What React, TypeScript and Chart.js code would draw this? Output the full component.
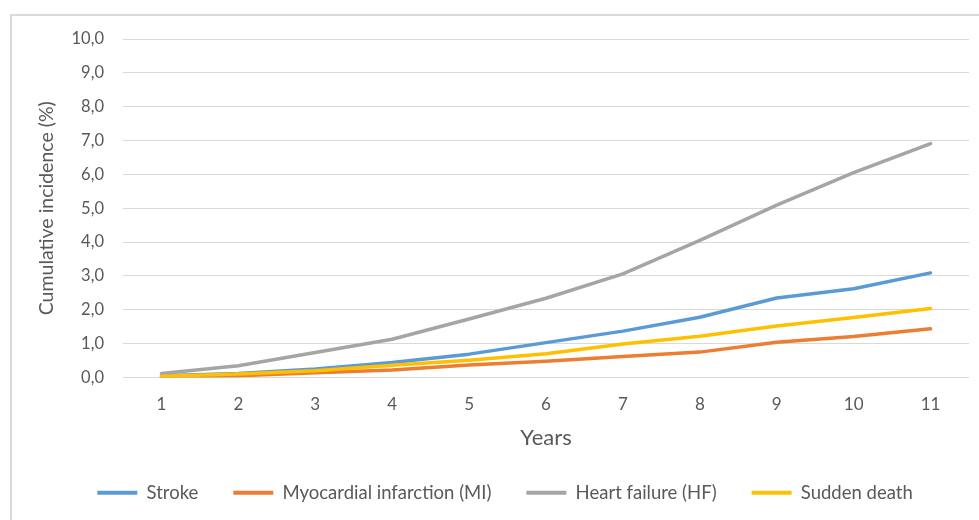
import React, { useEffect, useRef } from "react";
import { Chart, registerables } from "chart.js";

Chart.register(...registerables);

const years = ["1", "2", "3", "4", "5", "6", "7", "8", "9", "10", "11"];
const stroke = [0.05, 0.12, 0.25, 0.44, 0.69, 1.03, 1.37, 1.78, 2.35, 2.62, 3.09];
const myocardialInfarction = [0.02, 0.05, 0.14, 0.22, 0.37, 0.48, 0.62, 0.75, 1.04, 1.21, 1.44];
const heartFailure = [0.12, 0.35, 0.74, 1.13, 1.73, 2.34, 3.06, 4.05, 5.09, 6.05, 6.91];
const suddenDeath = [0.04, 0.1, 0.2, 0.36, 0.51, 0.7, 0.99, 1.22, 1.52, 1.77, 2.04];

const seriesNames = ["Stroke", "Myocardial infarction (MI)", "Heart failure (HF)", "Sudden death"];
const seriesColors = ["#5B9BD5", "#ED7D31", "#A5A5A5", "#FFC000"];
const yTitle = "Cumulative incidence (%)";
const xTitle = "Years";

const FONT = "Lato, 'Noto Sans', sans-serif";
const TEXT = "#595959";

export default function App() {
  const ref = useRef<HTMLCanvasElement | null>(null);

  useEffect(() => {
    if (!ref.current) return;
    const values = [stroke, myocardialInfarction, heartFailure, suddenDeath];
    const chart = new Chart(ref.current, {
      type: "line",
      data: {
        labels: years,
        datasets: values.map((v, i) => ({
          label: seriesNames[i],
          data: v,
          borderColor: seriesColors[i],
          backgroundColor: seriesColors[i],
          borderWidth: 3.5,
          pointRadius: 0,
          tension: 0,
          borderCapStyle: "round" as const,
          borderJoinStyle: "round" as const,
          order: values.length - i,
        })),
      },
      options: {
        responsive: false,
        animation: false,
        layout: { padding: { left: 41, right: 10, top: 39, bottom: 8 } },
        plugins: {
          tooltip: { enabled: false },
          legend: {
            position: "bottom",
            labels: {
              boxWidth: 40,
              boxHeight: 4,
              padding: 35,
              color: TEXT,
              font: { family: FONT, size: 18.5 },
              sort: (a: any, b: any) => a.datasetIndex - b.datasetIndex,
              generateLabels: (c: any) =>
                c.data.datasets.map((d: any, i: number) => ({
                  text: d.label,
                  fillStyle: d.borderColor,
                  strokeStyle: d.borderColor,
                  lineWidth: 0,
                  datasetIndex: i,
                  hidden: false,
                  fontColor: TEXT,
                })),
            },
          },
        },
        scales: {
          x: {
            offset: true,
            grid: { display: false, drawTicks: false },
            border: { display: false },
            ticks: { color: TEXT, font: { family: FONT, size: 17 }, padding: 17, maxRotation: 0 },
            title: {
              display: true,
              text: xTitle,
              color: TEXT,
              font: { family: FONT, size: 22 },
              padding: { top: 0, bottom: -3 },
            },
            afterFit: (s: any) => {
              s.height = 71;
            },
          },
          y: {
            min: 0,
            max: 10,
            ticks: {
              stepSize: 1,
              color: TEXT,
              padding: 19,
              font: { family: FONT, size: 16.5 },
              callback: (v: any) => Number(v).toFixed(1).replace(".", ","),
            },
            grid: { color: "#D9D9D9", lineWidth: 1, drawTicks: false },
            border: { display: false },
            title: {
              display: true,
              text: yTitle,
              color: TEXT,
              font: { family: FONT, size: 19.5, lineHeight: 0.6 },
              padding: { top: 0, bottom: 0 },
            },
            afterFit: (s: any) => {
              s.width = 82;
            },
          },
        },
      },
    });
    return () => chart.destroy();
  }, []);

  return (
    <div style={{ position: "fixed", left: 0, top: 0, width: 979, height: 520, background: "#fff", overflow: "hidden" }}>
      <div
        style={{
          position: "absolute",
          left: 10,
          top: 14,
          width: 1000,
          height: 600,
          borderLeft: "2px solid #D9D9D9",
          borderTop: "2px solid #D9D9D9",
        }}
      />
      <canvas ref={ref} width={979} height={520} style={{ position: "absolute", left: 0, top: 0 }} />
    </div>
  );
}
